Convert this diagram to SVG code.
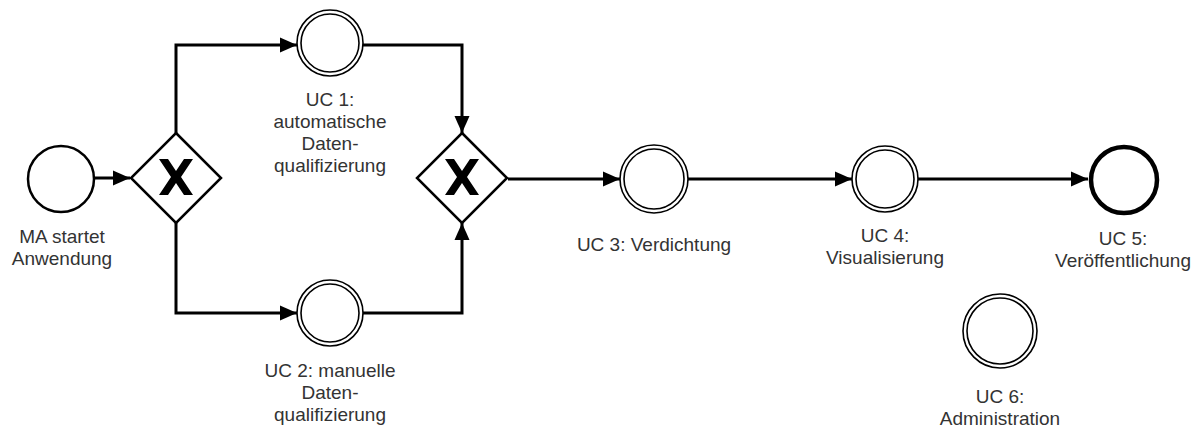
<svg xmlns="http://www.w3.org/2000/svg" width="1201" height="428" viewBox="0 0 1201 428">
<style>
.lbl{font-family:"Liberation Sans",Arial,sans-serif;font-size:19px;fill:#333;text-anchor:middle}
.ev{fill:#fff;stroke:#000;stroke-width:1.6}
.start{fill:#fff;stroke:#000;stroke-width:2.5}
.end{fill:#fff;stroke:#000;stroke-width:4.5}
.gw{fill:#fff;stroke:#000;stroke-width:2.5}
.xm{fill:#000}
.flow{fill:none;stroke:#000;stroke-width:3;marker-end:url(#arr)}
</style>
<defs>
<marker id="arr" markerUnits="userSpaceOnUse" markerWidth="20" markerHeight="20" viewBox="0 0 20 20" refX="18" refY="10" orient="auto">
<path d="M1,2.5 L18,10 L1,17.5 Z" fill="#000"/>
</marker>
<g id="xshape"><polygon points="-17,-18 -8,-18 0,-6 8,-18 17,-18 5,0 17,18 8,18 0,6 -8,18 -17,18 -5,0"/></g>
</defs>
<g id="connectors">
<path class="flow" d="M95,178 L130,178"/>
<path class="flow" d="M176,133 L176,45 L297,45"/>
<path class="flow" d="M176,223 L176,313 L297,313"/>
<path class="flow" d="M363,45 L462,45 L462,133"/>
<path class="flow" d="M363,313 L462,313 L462,223"/>
<path class="flow" d="M508,179 L620,179"/>
<path class="flow" d="M688,179 L852,179"/>
<path class="flow" d="M918,179 L1088,179"/>
</g>
<g id="start">
<circle class="start" cx="61" cy="179" r="33"/>
<text class="lbl" x="62" y="243">MA startet</text>
<text class="lbl" x="62" y="265">Anwendung</text>
</g>
<g id="gw1">
<polygon class="gw" points="176,133 221,178 176,223 131,178"/>
<use href="#xshape" x="176" y="177" class="xm"/>
</g>
<g id="uc1">
<circle class="ev" cx="330" cy="43" r="33"/>
<circle class="ev" cx="330" cy="43" r="29"/>
<text class="lbl" x="330" y="106">UC 1:</text>
<text class="lbl" x="330" y="128">automatische</text>
<text class="lbl" x="330" y="150">Daten-</text>
<text class="lbl" x="330" y="172">qualifizierung</text>
</g>
<g id="uc2">
<circle class="ev" cx="330" cy="313" r="33"/>
<circle class="ev" cx="330" cy="313" r="29"/>
<text class="lbl" x="330" y="377">UC 2: manuelle</text>
<text class="lbl" x="330" y="399">Daten-</text>
<text class="lbl" x="330" y="421">qualifizierung</text>
</g>
<g id="gw2">
<polygon class="gw" points="462,133 507,178 462,223 417,178"/>
<use href="#xshape" x="462" y="177" class="xm"/>
</g>
<g id="uc3">
<circle class="ev" cx="654" cy="179" r="34"/>
<circle class="ev" cx="654" cy="179" r="30"/>
<text class="lbl" x="654" y="251">UC 3: Verdichtung</text>
</g>
<g id="uc4">
<circle class="ev" cx="885" cy="179" r="33"/>
<circle class="ev" cx="885" cy="179" r="29"/>
<text class="lbl" x="885" y="242">UC 4:</text>
<text class="lbl" x="885" y="264">Visualisierung</text>
</g>
<g id="uc5">
<circle class="end" cx="1124" cy="180" r="33"/>
<text class="lbl" x="1123" y="245">UC 5:</text>
<text class="lbl" x="1123" y="267">Veröffentlichung</text>
</g>
<g id="uc6">
<circle class="ev" cx="1000" cy="331" r="37"/>
<circle class="ev" cx="1000" cy="331" r="33"/>
<text class="lbl" x="1000" y="403">UC 6:</text>
<text class="lbl" x="1000" y="425">Administration</text>
</g>
</svg>
